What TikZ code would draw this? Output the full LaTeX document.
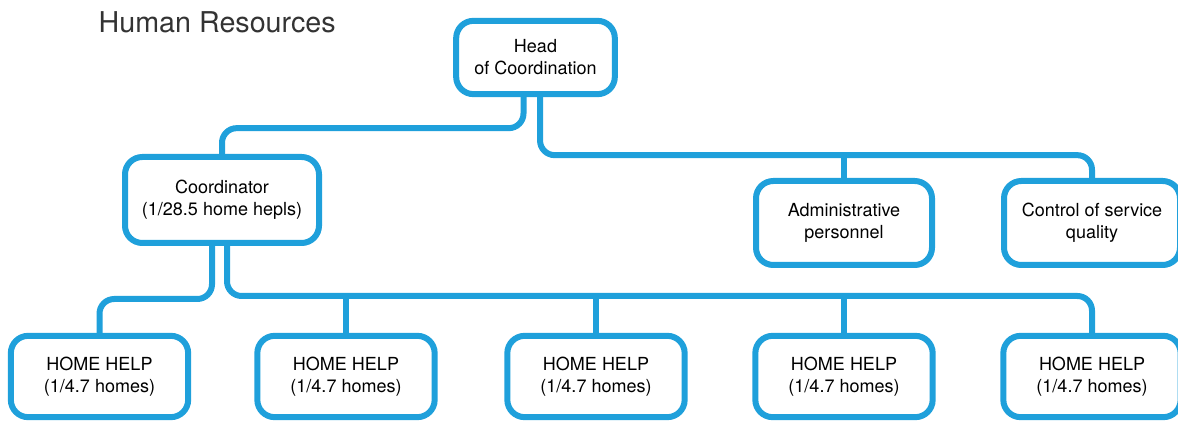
\documentclass[tikz,border=0pt]{standalone}
\usepackage{fontspec}
\setmainfont{TeX Gyre Heros}
\usetikzlibrary{positioning}
\definecolor{hrblue}{HTML}{1FA0DB}
\definecolor{hrgray}{HTML}{333333}

\begin{document}
\begin{tikzpicture}[x=0.75pt, y=-0.75pt,
  box/.style={draw=hrblue, line width=4.5pt, rounded corners=13pt, fill=white, align=center, inner sep=0pt, font=\fontsize{13.5pt}{16.5pt}\selectfont},
  link/.style={draw=hrblue, line width=4.5pt, rounded corners=11pt}]
\useasboundingbox (0,0) rectangle (1178,423);
\node (title) [anchor=west, text=hrgray, font=\fontsize{21.5pt}{24pt}\selectfont] at (94,22) {Human Resources};

\node (head) [box, minimum width=119pt, minimum height=55pt] at (535.5,57.5) {Head\\of Coordination};
\node (coord) [box, minimum width=145.5pt, minimum height=64.5pt] at (222,200) {Coordinator\\(1/28.5 home hepls)};
\node (admin) [box, minimum width=132pt, minimum height=63pt] at (844,223) {Administrative\\personnel};
\node (quality) [box, minimum width=132pt, minimum height=63pt] at (1092,223) {Control of service\\quality};

\node (help1) [box, minimum width=133pt, minimum height=61pt] at (99.5,376.5) {HOME HELP\\(1/4.7 homes)};
\node (help2) [box, minimum width=133pt, minimum height=61pt] at (346,376.5) {HOME HELP\\(1/4.7 homes)};
\node (help3) [box, minimum width=133pt, minimum height=61pt] at (596,376.5) {HOME HELP\\(1/4.7 homes)};
\node (help4) [box, minimum width=133pt, minimum height=61pt] at (844,376.5) {HOME HELP\\(1/4.7 homes)};
\node (help5) [box, minimum width=133pt, minimum height=61pt] at (1092,376.5) {HOME HELP\\(1/4.7 homes)};

% upper level
\coordinate (upper) at (540,152);
\draw[link] ([xshift=-9pt]head.south) -- ++(0,31) -| (coord.north);
\draw[link] ([xshift=3.4pt]head.south) -- ++(0,58) -| (quality.north);
\draw[link] (admin.north) -- (admin.north |- upper);

% home helps
\coordinate (lower) at (227,293);
\draw[link] ([xshift=-7.5pt]coord.south) -- ++(0,53) -| (help1.north);
\draw[link] ([xshift=3.75pt]coord.south) -- ++(0,50) -| (help5.north);
\foreach \n in {2,3,4}
  \draw[link] (help\n.north) -- (help\n.north |- lower);
\end{tikzpicture}
\end{document}
